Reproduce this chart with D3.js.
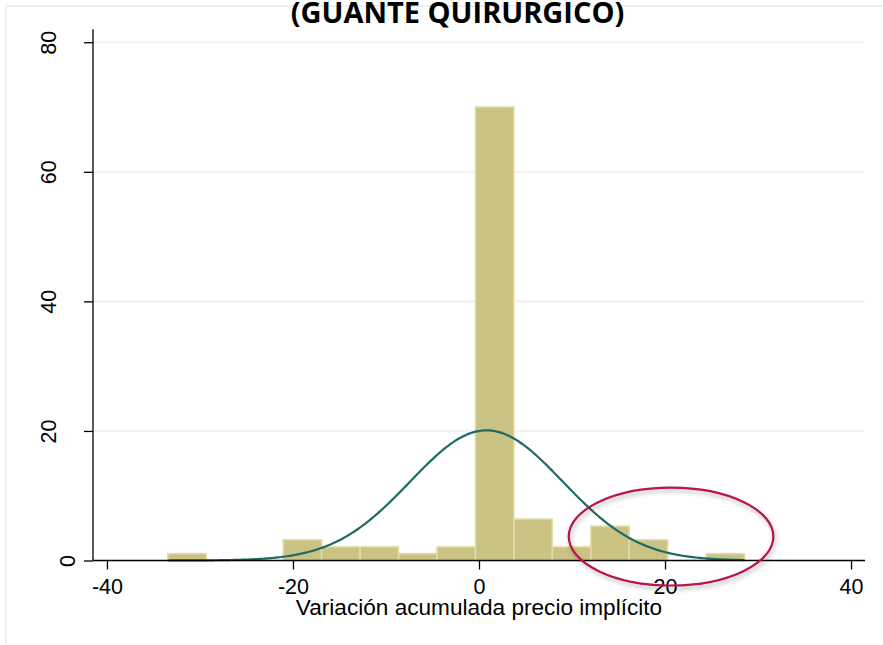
<!DOCTYPE html>
<html><head><meta charset="utf-8">
<script src="https://cdn.jsdelivr.net/npm/d3@7"></script>
<style>body{margin:0;background:#fff} svg{display:block}</style>
</head><body>
<script>
// ---- data ----
const binEdges = [-33.45,-29.32,-25.18,-21.05,-16.92,-12.78,-8.65,-4.52,-0.38,3.75,7.88,12.02,16.15,20.28,24.42,28.55];
const percents = [1.06,0,0,3.2,2.1,2.1,1.06,2.1,70.0,6.4,2.1,5.3,3.2,0,1.06];
const xTicks = [-40,-20,0,20,40];
const yTicks = [0,20,40,60,80];
const normalMean = 0.8;
const normalSD = 8.2;
const highlightCenter = [20.65, 3.7];
const highlightRadii = [11.0, 7.56];
const titleText = "(GUANTE QUIRURGICO)";
const xTitleText = "Variación acumulada precio implícito";

const W = 883, H = 645;
const FONT = "'Liberation Sans', Arial, sans-serif";
const svg = d3.select("body").append("svg").attr("width", W).attr("height", H);

const defs = svg.append("defs");
const f = defs.append("filter").attr("id","shadow").attr("x","-20%").attr("y","-20%").attr("width","140%").attr("height","150%");
f.append("feDropShadow").attr("dx",1.5).attr("dy",3).attr("stdDeviation",2.2).attr("flood-color","#000").attr("flood-opacity",0.28);

// outer graph-region border (cropped)
svg.append("rect").attr("x",6).attr("y",6).attr("width",950).attr("height",750)
  .attr("fill","none").attr("stroke","#e6eef0").attr("stroke-width",1.6);

const x = d3.scaleLinear().domain([-41.5, 41.5]).range([93, 865]);
const y = d3.scaleLinear().domain([0, 82]).range([560.5, 29.3]);

// gridlines
svg.append("g").selectAll("line").data(yTicks.filter(d => d > 0)).join("line")
  .attr("x1", x.range()[0]).attr("x2", x.range()[1])
  .attr("y1", d => y(d)).attr("y2", d => y(d))
  .attr("stroke","#e8eff1").attr("stroke-width",1.6);

// bars
const bins = percents.map((p,i) => ({x0: binEdges[i], x1: binEdges[i+1], v: p})).filter(b => b.v > 0);
svg.append("g").selectAll("rect").data(bins).join("rect")
  .attr("x", d => x(d.x0)).attr("width", d => x(d.x1) - x(d.x0))
  .attr("y", d => y(d.v)).attr("height", d => y(0) - y(d.v))
  .attr("fill","#cbc384").attr("stroke","#e2dcab").attr("stroke-width",1.6);

// normal density overlay
const bw = binEdges[1] - binEdges[0];
const pts = d3.range(binEdges[0], binEdges[binEdges.length-1] + 0.001, 0.2).map(v => {
  const z = (v - normalMean) / normalSD;
  return [v, 100 * bw * Math.exp(-0.5*z*z) / (normalSD * Math.sqrt(2*Math.PI))];
});
svg.append("path").datum(pts)
  .attr("d", d3.line().x(d => x(d[0])).y(d => y(d[1])).curve(d3.curveBasis))
  .attr("fill","none").attr("stroke","#1f6b62").attr("stroke-width",2.2);

// axes
const fmt = d => String(d);
const xAxis = svg.append("g").attr("transform",`translate(0,${y(0)})`)
  .call(d3.axisBottom(x).tickValues(xTicks).tickFormat(fmt).tickSize(9).tickSizeOuter(0));
const yAxis = svg.append("g").attr("transform",`translate(${x.range()[0]},0)`)
  .call(d3.axisLeft(y).tickValues(yTicks).tickFormat(fmt).tickSize(9).tickSizeOuter(0));
[xAxis, yAxis].forEach(g => {
  g.select(".domain").attr("stroke","#000").attr("stroke-width",1.3);
  g.selectAll(".tick line").attr("stroke","#000").attr("stroke-width",1.3);
  g.selectAll("text").attr("fill","#000").attr("font-family",FONT).attr("font-size",21.5);
});
xAxis.select(".domain").attr("d", `M${x.range()[0]},0H${x.range()[1]}`);
yAxis.select(".domain").attr("d", `M0,${y.range()[0]}V${y.range()[1]}`);
xAxis.selectAll(".tick text").attr("y", 33.5).attr("dy", 0);
yAxis.selectAll(".tick text")
  .attr("text-anchor","middle").attr("dy","0.36em")
  .attr("transform", d => `translate(${(String(d).length > 1 ? 48 : 67) - 93},0) rotate(-90)`)
  .attr("x",0).attr("y",0);

// axis title
svg.append("text").attr("x", 479).attr("y", 615)
  .attr("text-anchor","middle").attr("font-family",FONT)
  .attr("font-size",22.6).attr("fill","#000").text(xTitleText);

// title
svg.append("text").attr("x", 457.5).attr("y", 22.5).attr("text-anchor","middle")
  .attr("font-family","'Open Sans', sans-serif").attr("font-weight",700)
  .attr("font-size",29).attr("fill","#000").text(titleText);

// highlight ellipse
svg.append("ellipse")
  .attr("cx", x(highlightCenter[0])).attr("cy", y(highlightCenter[1]))
  .attr("rx", x(highlightCenter[0] + highlightRadii[0]) - x(highlightCenter[0]))
  .attr("ry", y(highlightCenter[1] - highlightRadii[1]) - y(highlightCenter[1]))
  .attr("fill","none").attr("stroke","#b8124c").attr("stroke-width",2.2)
  .attr("filter","url(#shadow)");
</script>
</body></html>
